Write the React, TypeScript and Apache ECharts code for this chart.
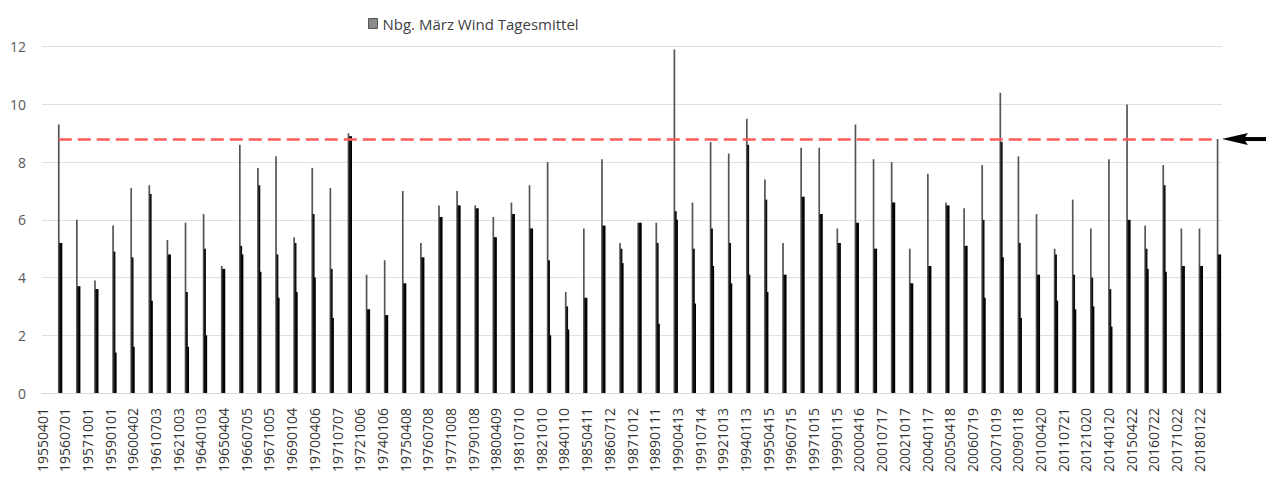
import React, { useEffect, useRef } from "react";
import * as echarts from "echarts";

const seriesName = "Nbg. März Wind Tagesmittel";

const years = [
  1955, 1956, 1957, 1958, 1959, 1960, 1961, 1962, 1963, 1964,
  1965, 1966, 1967, 1968, 1969, 1970, 1971, 1972, 1973, 1974,
  1975, 1976, 1977, 1978, 1979, 1980, 1981, 1982, 1983, 1984,
  1985, 1986, 1987, 1988, 1989, 1990, 1991, 1992, 1993, 1994,
  1995, 1996, 1997, 1998, 1999, 2000, 2001, 2002, 2003, 2004,
  2005, 2006, 2007, 2008, 2009, 2010, 2011, 2012, 2013, 2014,
  2015, 2016, 2017, 2018, 2019,
];

// highest daily mean in the March cluster of each year
const highValues = [
  9.3, 6.0, 3.9, 5.8, 7.1, 7.2, 5.3, 5.9, 6.2, 4.4,
  8.6, 7.8, 8.2, 5.4, 7.8, 7.1, 9.0, 4.1, 4.6, 7.0,
  5.2, 6.5, 7.0, 6.5, 6.1, 6.6, 7.2, 8.0, 3.5, 5.7,
  8.1, 5.2, 5.9, 5.9, 11.9, 6.6, 8.7, 8.3, 9.5, 7.4,
  5.2, 8.5, 8.5, 5.7, 9.3, 8.1, 8.0, 5.0, 7.6, 6.6,
  6.4, 7.9, 10.4, 8.2, 6.2, 5.0, 6.7, 5.7, 8.1, 10.0,
  5.8, 7.9, 5.7, 5.7, 8.8,
];

// second level visible in each cluster
const midValues = [
  5.2, 3.7, 3.6, 4.9, 4.7, 6.9, 4.8, 3.5, 5.0, 4.3,
  5.1, 7.2, 4.8, 5.2, 6.2, 4.3, 8.9, 2.9, 2.7, 3.8,
  4.7, 6.1, 6.5, 6.4, 5.4, 6.2, 5.7, 4.6, 3.0, 3.3,
  5.8, 5.0, 5.9, 5.2, 6.3, 5.0, 5.7, 5.2, 8.6, 6.7,
  4.1, 6.8, 6.2, 5.2, 5.9, 5.0, 6.6, 3.8, 4.4, 6.5,
  5.1, 6.0, 8.7, 5.2, 4.1, 4.8, 4.1, 4.0, 3.6, 6.0,
  5.0, 7.2, 4.4, 4.4, 4.8,
];

// lowest level visible in each cluster
const lowValues = [
  5.2, 3.7, 3.6, 1.4, 1.6, 3.2, 4.8, 1.6, 2.0, 4.3,
  4.8, 4.2, 3.3, 3.5, 4.0, 2.6, 8.9, 2.9, 2.7, 3.8,
  4.7, 6.1, 6.5, 6.4, 5.4, 6.2, 5.7, 2.0, 2.2, 3.3,
  5.8, 4.5, 5.9, 2.4, 6.0, 3.1, 4.4, 3.8, 4.1, 3.5,
  4.1, 6.8, 6.2, 5.2, 5.9, 5.0, 6.6, 3.8, 4.4, 6.5,
  5.1, 3.3, 4.7, 2.6, 4.1, 3.2, 2.9, 3.0, 2.3, 6.0,
  4.3, 4.2, 4.4, 4.4, 4.8,
];

const dateLabels = [
  "19550401", "19560701", "19571001", "19590101", "19600402", "19610703",
  "19621003", "19640103", "19650404", "19660705", "19671005", "19690104",
  "19700406", "19710707", "19721006", "19740106", "19750408", "19760708",
  "19771008", "19790108", "19800409", "19810710", "19821010", "19840110",
  "19850411", "19860712", "19871012", "19890111", "19900413", "19910714",
  "19921013", "19940113", "19950415", "19960715", "19971015", "19990115",
  "20000416", "20010717", "20021017", "20040117", "20050418", "20060719",
  "20071019", "20090118", "20100420", "20110721", "20121020", "20140120",
  "20150422", "20160722", "20171022", "20180122",
];

const yTicks = [0, 2, 4, 6, 8, 10, 12];
const threshold = 8.8;

const FONT = "'Open Sans', 'Noto Sans', sans-serif";

export default function App() {
  const ref = useRef<HTMLDivElement>(null);

  useEffect(() => {
    document.body.style.margin = "0";
    if (!ref.current) return;
    const chart = echarts.init(ref.current, undefined, { renderer: "svg" });

    const pair = (vals: number[]) => years.map((y, i) => [y, vals[i]]);

    chart.setOption({
      animation: false,
      backgroundColor: "#ffffff",
      textStyle: { fontFamily: FONT },
      grid: { left: 42, right: 44, top: 46.7, bottom: 88, containLabel: false },
      legend: {
        data: [seriesName],
        left: 363,
        top: 11,
        icon: "rect",
        itemWidth: 9,
        itemHeight: 10,
        itemGap: 5,
        textStyle: { fontSize: 15, color: "#404040", fontFamily: FONT },
        itemStyle: { color: "#8a8a8a", borderColor: "#555555", borderWidth: 1 },
      },
      xAxis: [
        {
          type: "value",
          min: 1954,
          max: 2019.17,
          show: false,
          splitLine: { show: false },
        },
        {
          type: "category",
          data: [...dateLabels, ""],
          boundaryGap: false,
          position: "bottom",
          axisLine: { show: true, lineStyle: { color: "#d9d9d9", width: 1 } },
          axisTick: { show: false },
          splitLine: { show: false },
          axisLabel: {
            interval: 0,
            rotate: 90,
            margin: 15,
            fontSize: 14,
            color: "#333333",
            fontFamily: FONT,
          },
        },
      ],
      yAxis: {
        type: "value",
        min: yTicks[0],
        max: yTicks[yTicks.length - 1],
        interval: 2,
        axisLine: { show: false },
        axisTick: { show: false },
        splitLine: { lineStyle: { color: "#e0e0e0", width: 1 } },
        axisLabel: { fontSize: 14, color: "#595959", margin: 16, fontFamily: FONT },
      },
      series: [
        {
          name: seriesName,
          type: "bar",
          xAxisIndex: 0,
          data: pair(highValues),
          barWidth: 1.7,
          barGap: "-30%",
          itemStyle: { color: "#555555" },
          markLine: {
            symbol: "none",
            silent: true,
            label: { show: false },
            lineStyle: { color: "#ff5b5b", type: [13, 6], width: 2.5 },
            data: [
              [
                { coord: [years[0], threshold] },
                { coord: [years[years.length - 1], threshold] },
              ],
            ],
          },
        },
        {
          name: "mid",
          type: "bar",
          xAxisIndex: 0,
          data: pair(midValues),
          barWidth: 2,
          barGap: "-30%",
          itemStyle: { color: "#111111" },
        },
        {
          name: "low",
          type: "bar",
          xAxisIndex: 0,
          data: pair(lowValues),
          barWidth: 1.8,
          barGap: "-30%",
          itemStyle: { color: "#000000" },
        },
      ],
    });

    const p = chart.convertToPixel({ xAxisIndex: 0, yAxisIndex: 0 }, [
      years[years.length - 1],
      threshold,
    ]) as number[];
    if (p && isFinite(p[0])) {
      const tipX = p[0] + 3;
      const y = p[1];
      chart.setOption({
        graphic: [
          {
            type: "polygon",
            silent: true,
            shape: {
              points: [
                [tipX, y],
                [tipX + 26, y - 6],
                [tipX + 22, y],
                [tipX + 26, y + 6],
              ],
            },
            style: { fill: "#000000" },
          },
          {
            type: "rect",
            silent: true,
            shape: { x: tipX + 20, y: y - 2, width: 1266 - tipX - 20, height: 4 },
            style: { fill: "#000000" },
          },
        ],
      });
    }

    return () => chart.dispose();
  }, []);

  return <div ref={ref} style={{ width: 1266, height: 481 }} />;
}
